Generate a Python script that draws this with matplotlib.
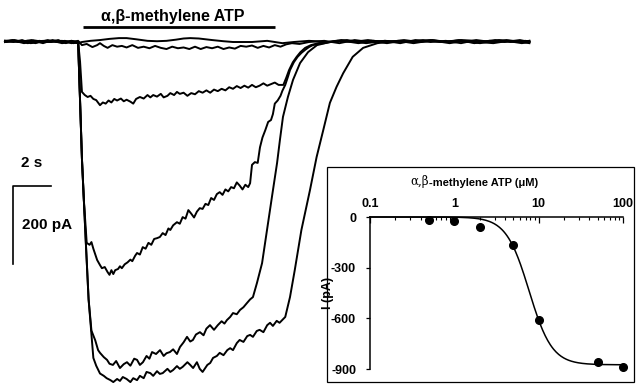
import numpy as np
import matplotlib
matplotlib.use("Agg")
import matplotlib.pyplot as plt
from matplotlib.patches import Rectangle

plt.rcParams['font.family'] = ['Liberation Sans', 'DejaVu Sans']
plt.rcParams['font.weight'] = 'bold'

# ---- whole-cell currents (time in s, current in pA), one trace per concentration ----
t_smooth = [0.0, 0.7, 1.4, 2.1, 2.8, 3.5, 3.85, 4.05, 4.5, 5.0, 5.5, 6.0, 6.4, 6.9, 7.5, 8.0,
            8.5, 9.0, 9.4, 9.75, 10.2, 10.9, 11.5, 12.0, 13.0, 13.8, 14.6, 15.2,
            16.0, 17.0, 18.0, 19.0, 20.0, 21.0, 22.0, 23.0, 24.0, 25.0, 26.0, 27.0, 27.6]
i_smooth = [3, 0, 5, 0, 3, 0, -3, 0, 3, 5, 8, 10, 10, 7, 3, 2,
            3, 6, 9, 10, 9, 5, 2, 0, 0, 3, -3, 0,
            3, 0, 5, -3, 3, 0, 5, 0, 3, -3, 5, 0, 3]

t_small = [0.0, 0.5, 1.0, 1.5, 2.0, 2.5, 3.0, 3.5, 3.85, 4.05, 4.3, 4.6, 4.85, 5.0, 5.2, 5.4,
           5.65, 5.9, 6.15, 6.4, 6.7, 7.0, 7.3, 7.6, 7.9, 8.2, 8.5, 8.8, 9.1, 9.4, 9.7, 10.0,
           10.3, 10.6, 10.9, 11.2, 11.5, 11.8, 12.1, 12.4, 12.7, 13.0, 13.3, 13.6, 13.9, 14.2,
           14.5, 14.8, 15.1, 15.5, 16.0, 16.8, 17.6, 18.4, 19.2, 20.0, 20.8, 21.6, 22.4, 23.2,
           24.0, 24.8, 25.6, 26.4, 27.2, 27.6]
i_small = [0, 3, -3, 3, 0, 3, -3, 0, 3, -8, -5, -13, -8, -3, -10, -15,
           -8, -12, -10, -14, -8, -15, -12, -16, -10, -15, -18, -12, -16, -14, -18, -12,
           -18, -13, -16, -12, -18, -14, -17, -10, -12, -9, -15, -10, -14, -8,
           -12, -6, -3, -5, 0, 3, -3, 5, 0, 3, -3, 5, 0, 3,
           -3, 5, 0, 3, -3, 0]

t_5 = [0.0, 0.45, 0.9, 1.35, 1.8, 2.25, 2.7, 3.15, 3.6, 3.85, 3.95, 4.05, 4.2, 4.35, 4.5, 4.65,
       4.8, 5.0, 5.15, 5.3, 5.45, 5.6, 5.75, 5.9, 6.1, 6.25, 6.4, 6.6, 6.75, 6.9, 7.1, 7.3,
       7.5, 7.65, 7.8, 8.0, 8.2, 8.35, 8.55, 8.7, 8.9, 9.05, 9.2, 9.4, 9.6, 9.8, 10.0, 10.2,
       10.4, 10.6, 10.8, 11.0, 11.2, 11.4, 11.6, 11.8, 12.0, 12.2, 12.4, 12.6, 12.8, 13.0,
       13.2, 13.4, 13.6, 13.8, 14.0, 14.2, 14.4, 14.65, 14.8, 14.95, 15.15, 15.35, 15.55,
       15.8, 16.1, 16.5, 17.0, 17.7, 18.5, 19.3, 20.1, 20.9, 21.7, 22.5, 23.3, 24.1, 24.9,
       25.7, 26.5, 27.3, 27.6]
i_5 = [3, 0, 5, -3, 0, 5, 0, 3, -3, 0, -50, -128, -136, -141, -138, -146,
       -149, -162, -155, -158, -150, -155, -146, -150, -145, -152, -148, -153, -158, -146, -141, -145,
       -136, -142, -136, -140, -133, -142, -138, -131, -136, -128, -133, -130, -138, -131, -134, -126,
       -130, -124, -130, -122, -126, -120, -124, -116, -120, -113, -118, -112, -117, -110,
       -116, -112, -106, -112, -108, -104, -110, -110, -92, -72, -52, -38, -26,
       -15, -8, -3, 0, 5, 0, 3, -3, 3, 0, 5, 0, 3, 0,
       -3, 3, 0, 3]

t_10 = [0.0, 0.4, 0.8, 1.2, 1.6, 2.0, 2.4, 2.8, 3.2, 3.5, 3.85, 3.95, 4.05, 4.15, 4.3, 4.45,
        4.55, 4.65, 4.85, 5.0, 5.1, 5.25, 5.4, 5.5, 5.6, 5.7, 5.8, 5.95, 6.05, 6.15, 6.3, 6.45,
        6.6, 6.7, 6.85, 6.95, 7.1, 7.25, 7.4, 7.55, 7.7, 7.85, 8.0, 8.15, 8.3, 8.45, 8.6, 8.7,
        8.85, 9.05, 9.2, 9.35, 9.5, 9.65, 9.8, 9.95, 10.1, 10.25, 10.4, 10.55, 10.7, 10.85,
        11.0, 11.15, 11.3, 11.45, 11.6, 11.75, 11.9, 12.05, 12.2, 12.35, 12.5, 12.65, 12.8,
        12.9, 13.0, 13.15, 13.3, 13.42, 13.55, 13.7, 13.85, 14.0, 14.1, 14.2, 14.35, 14.5,
        14.6, 14.75, 14.9, 15.0, 15.2, 15.4, 15.6, 15.8, 16.0, 16.2, 16.5, 16.8, 17.5, 18.3,
        19.1, 19.9, 20.7, 21.5, 22.3, 23.1, 23.9, 24.7, 25.5, 26.3, 27.1, 27.6]
i_10 = [0, 5, 0, 3, -3, 3, 0, 5, -3, 3, 0, -150, -300, -405, -515, -520,
        -513, -530, -559, -572, -580, -577, -590, -597, -585, -595, -585, -582, -575, -580, -570, -565,
        -558, -562, -548, -541, -545, -526, -530, -515, -520, -505, -503, -500, -490, -495, -478, -482,
        -470, -462, -466, -449, -453, -431, -440, -450, -435, -426, -428, -415, -418, -400,
        -405, -390, -385, -392, -378, -383, -372, -375, -360, -368, -378, -366, -372,
        -362, -315, -308, -310, -270, -245, -226, -205, -200, -185, -158, -150, -138,
        -125, -110, -88, -72, -52, -38, -28, -20, -13, -8, -5, -3, 3, 0,
        5, 0, 3, -3, 3, 0, 5, -3, 3, 0, 5, 0]

t_50 = [0.0, 0.6, 1.2, 1.8, 2.4, 3.0, 3.5, 3.85, 3.95, 4.05, 4.15, 4.25, 4.4, 4.55, 4.75, 4.9,
        5.0, 5.2, 5.37, 5.5, 5.68, 5.85, 6.05, 6.25, 6.42, 6.6, 6.8, 6.95, 7.1, 7.26, 7.45,
        7.6, 7.74, 7.95, 8.16, 8.35, 8.5, 8.68, 8.85, 9.05, 9.21, 9.4, 9.58, 9.75, 9.89, 10.05,
        10.26, 10.45, 10.6, 10.79, 11.0, 11.2, 11.4, 11.55, 11.68, 11.85, 12.0, 12.2, 12.37,
        12.55, 12.74, 12.9, 13.05, 13.26, 13.53, 13.79, 14.05, 14.32, 14.47, 14.63, 14.89,
        15.16, 15.53, 15.95, 16.42, 17.1, 17.8, 18.6, 19.4, 20.2, 21.0, 21.8, 22.6, 23.4,
        24.2, 25.0, 25.8, 26.6, 27.4, 27.6]
i_50 = [0, 3, -3, 3, 0, 3, -3, 0, -150, -300, -405, -510, -660, -740, -765, -790,
        -797, -808, -815, -825, -828, -818, -836, -826, -821, -830, -812, -815, -828, -821, -805,
        -812, -795, -800, -790, -805, -798, -795, -788, -800, -782, -770, -756, -768, -764, -750,
        -744, -752, -735, -726, -738, -726, -716, -722, -713, -705, -695, -698, -687,
        -680, -669, -660, -654, -618, -567, -482, -397, -310, -251, -192, -141,
        -97, -54, -26, -8, 0, 3, -3, 3, 0, 5, 0, 3, -3,
        3, 0, 5, 0, 3, 0]

t_100 = [0.0, 0.5, 1.0, 1.5, 2.0, 2.5, 3.0, 3.5, 3.85, 3.95, 4.05, 4.15, 4.25, 4.4, 4.55, 4.65,
         4.8, 5.0, 5.2, 5.35, 5.55, 5.7, 5.9, 6.05, 6.2, 6.4, 6.6, 6.75, 6.95, 7.1, 7.3, 7.45,
         7.65, 7.8, 8.0, 8.15, 8.3, 8.55, 8.7, 8.85, 9.05, 9.2, 9.35, 9.6, 9.75, 9.9, 10.1,
         10.25, 10.4, 10.65, 10.8, 10.95, 11.15, 11.3, 11.5, 11.7, 11.85, 12.0, 12.2, 12.35,
         12.55, 12.75, 12.9, 13.05, 13.25, 13.4, 13.6, 13.8, 13.95, 14.1, 14.3, 14.45, 14.75,
         15.0, 15.25, 15.6, 16.05, 16.4, 16.75, 17.1, 17.45, 17.8, 18.3, 18.85, 19.6, 20.1,
         20.8, 21.6, 22.4, 23.2, 24.0, 24.8, 25.6, 26.4, 27.2, 27.6]
i_100 = [3, 5, 0, 3, -3, 5, 0, 3, -3, -150, -300, -405, -510, -660, -750, -810,
         -830, -850, -856, -862, -867, -872, -864, -869, -859, -864, -872, -862, -867, -856, -862, -846,
         -849, -856, -844, -851, -849, -838, -846, -841, -831, -838, -833, -821, -828, -836, -821,
         -838, -846, -828, -823, -810, -805, -797, -803, -790, -785, -790, -772, -764,
         -769, -754, -751, -756, -741, -738, -744, -726, -720, -728, -715, -720, -705,
         -654, -585, -482, -380, -295, -226, -156, -115, -80, -38, -15, -3, 0,
         3, 0, 5, 0, 5, 3, 0, 5, 0, -3]

traces = [(t_smooth, i_smooth), (t_small, i_small), (t_5, i_5),
          (t_10, i_10), (t_50, i_50), (t_100, i_100)]

# drug application bar and calibration
drug_on, drug_off = 4.1, 14.2
bar_t, bar_i = 2.0, 200.0

# ---- concentration-response ----
conc = [0.5, 1, 2, 5, 10, 50, 100]
peak = [-18, -24, -57, -166, -609, -856, -889]
imax, ec50, hill = -875.0, 7.7, 3.2

fig = plt.figure(figsize=(6.37, 3.84), dpi=100)
ax = fig.add_axes([0, 0, 1, 1])
ax.set_xlim(-0.263, 33.263)
ax.set_ylim(-876.9, 107.7)
ax.axis('off')

for t, i in traces:
    ax.plot(t, i, color='black', lw=1.4, solid_joinstyle='round')

ax.plot([drug_on, drug_off], [38.5, 38.5], color='black', lw=2.0, solid_capstyle='butt')
ax.text((drug_on + drug_off) / 2 - 0.3, 66, 'α,β-methylene ATP', ha='center', va='center',
        fontsize=11.5, fontweight='bold')

sx, sy = 0.42, -369
ax.plot([sx + bar_t, sx, sx], [sy, sy, sy - bar_i], color='black', lw=1.2)
ax.text(sx + 1.0, sy + 59, '2 s', ha='center', va='center', fontsize=11, fontweight='bold')
ax.text(sx + 0.47, sy - 100, '200 pA', ha='left', va='center', fontsize=11, fontweight='bold')

# inset box
fig.patches.append(Rectangle((327 / 637, 2 / 384), 307 / 637, 215 / 384, transform=fig.transFigure,
                             facecolor='white', edgecolor='black', lw=0.9, zorder=2))

ax2 = fig.add_axes([370 / 637, 1 - 369 / 384, 253 / 637, 152 / 384], zorder=3)
ax2.patch.set_alpha(0)
ax2.set_xscale('log')
ax2.set_xlim(0.1, 100)
ax2.set_ylim(-900, 0)

cc = np.logspace(-1, 2, 300)
fit = imax * cc ** hill / (cc ** hill + ec50 ** hill)
ax2.plot(cc, fit, color='black', lw=1.1, clip_on=False)
ax2.plot(conc, peak, 'o', color='black', ms=5.5, clip_on=False)

ax2.spines['bottom'].set_visible(False)
ax2.spines['right'].set_visible(False)
ax2.spines['top'].set_linewidth(1.1)
ax2.spines['left'].set_linewidth(1.1)
ax2.xaxis.set_ticks_position('top')
ax2.tick_params(axis='x', which='major', direction='in', length=4, width=0.9, pad=5,
                labelsize=9)
ax2.tick_params(axis='x', which='minor', direction='in', length=2.5, width=0.8)
ax2.set_xticks([0.1, 1, 10, 100])
ax2.set_xticklabels(['0.1', '1', '10', '100'], fontweight='bold')
ax2.tick_params(axis='y', direction='out', length=3, width=0.9, pad=7, labelsize=9)
ax2.set_yticks([0, -300, -600, -900])
ax2.set_yticklabels(['0', '-300', '-600', '-900'], fontweight='bold')
ax2.set_ylabel('I (pA)', fontsize=9, fontweight='bold')
ax2.yaxis.set_label_coords(-0.142, 0.5)

lab1 = ax2.text(0.16, 1.19, 'α,β', transform=ax2.transAxes, family='DejaVu Serif',
                fontweight='normal', fontsize=8.5, ha='left', va='bottom')
ax2.annotate('-methylene ATP (μM)', xy=(1, 0), xycoords=lab1, ha='left', va='bottom',
             fontsize=8, fontweight='bold')

fig.savefig('out.png', dpi=100)
